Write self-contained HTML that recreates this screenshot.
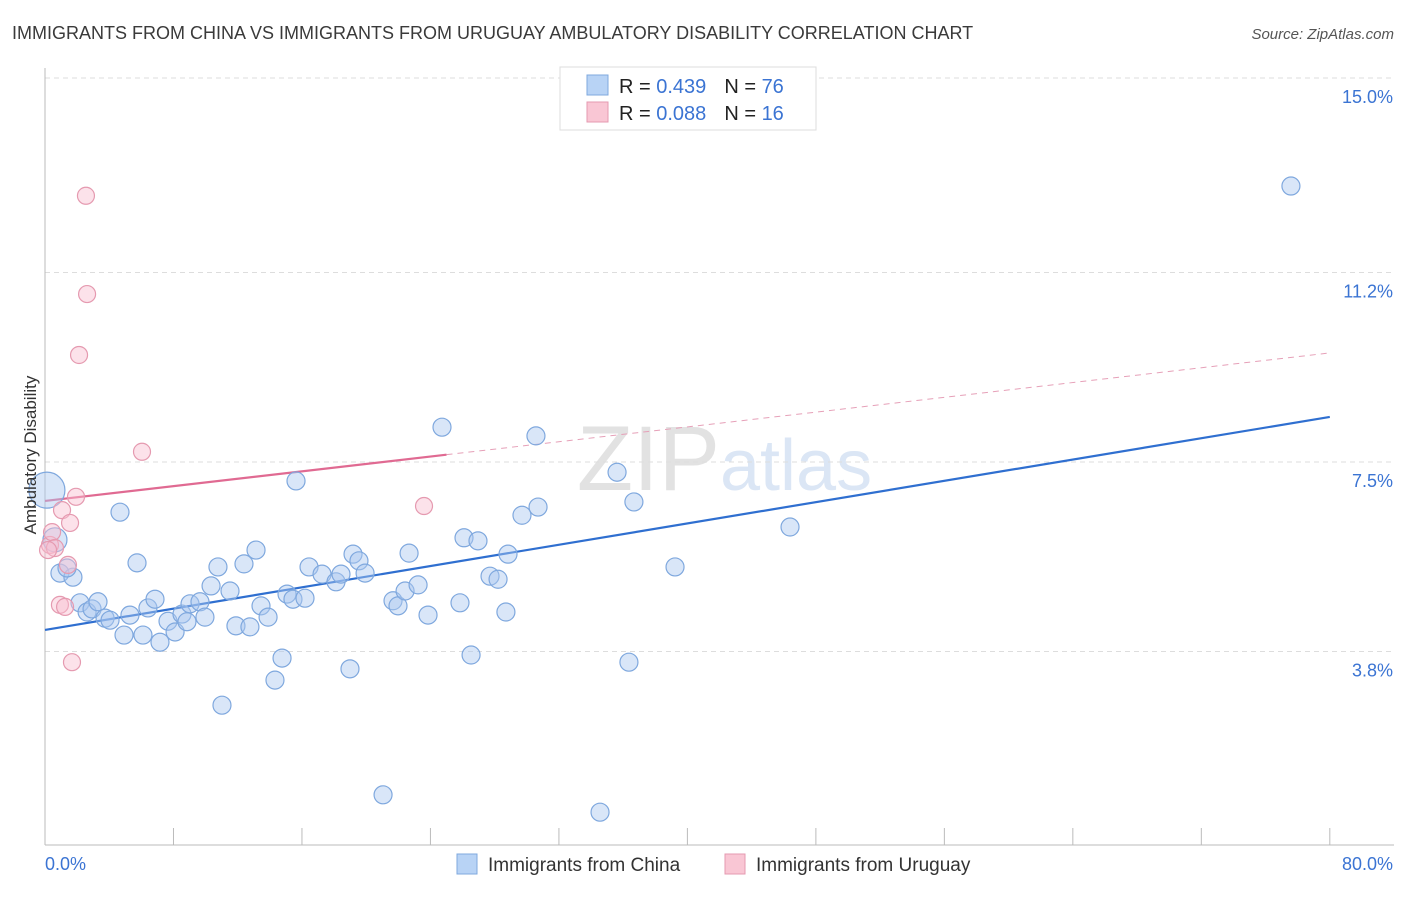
<!DOCTYPE html>
<html><head><meta charset="utf-8"><style>
body{margin:0;background:#fff;font-family:"Liberation Sans",sans-serif}
svg text{font-family:"Liberation Sans",sans-serif}
</style></head><body>
<svg id="c" width="1406" height="892" viewBox="0 0 1406 892">
<text x="12" y="39" font-size="18" fill="#3a3a3a">IMMIGRANTS FROM CHINA VS IMMIGRANTS FROM URUGUAY AMBULATORY DISABILITY CORRELATION CHART</text>
<text x="1394" y="39" font-size="15" fill="#555" font-style="italic" text-anchor="end">Source: ZipAtlas.com</text>
<text x="720" y="490" font-size="92" fill="#e2e2e2" text-anchor="end" font-family="Liberation Serif">ZIP</text>
<text x="720" y="490" font-size="72" fill="#dbe6f5">atlas</text>
<g id="grid"></g>
<g id="axes"></g>
<g id="lines"></g>
<g id="pts"></g>
<text x="36" y="455" font-size="17" fill="#333" text-anchor="middle" transform="rotate(-90 36 455)">Ambulatory Disability</text>
<g>
<rect x="560" y="67" width="256" height="63" fill="#fff" stroke="#ddd"/>
<rect x="587" y="75" width="21" height="20" fill="#b8d3f5" stroke="#7fa8de"/>
<rect x="587" y="102" width="21" height="20" fill="#f9c6d4" stroke="#e59ab0"/>
<text x="619" y="93" font-size="20" fill="#222">R = <tspan fill="#3b74d3">0.439</tspan><tspan dx="18">N = </tspan><tspan fill="#3b74d3">76</tspan></text>
<text x="619" y="120" font-size="20" fill="#222">R = <tspan fill="#3b74d3">0.088</tspan><tspan dx="18">N = </tspan><tspan fill="#3b74d3">16</tspan></text>
</g>
<g>
<rect x="457" y="854" width="20" height="20" fill="#b8d3f5" stroke="#7fa8de"/>
<text x="488" y="871" font-size="19" fill="#333">Immigrants from China</text>
<rect x="725" y="854" width="20" height="20" fill="#f9c6d4" stroke="#e59ab0"/>
<text x="756" y="871" font-size="19" fill="#333">Immigrants from Uruguay</text>
</g>
</svg>
<script>
const yTicks=[15.0,11.2,7.5,3.8];
const yTickLabels=["15.0%","11.2%","7.5%","3.8%"];
const xTickVals=[0,8,16,24,32,40,48,56,64,72,80];
const chinaX=[0.12,0.62,0.93,1.74,1.37,2.18,2.62,2.93,3.30,3.74,4.05,4.67,4.92,5.29,5.73,6.10,6.41,6.85,7.16,7.66,8.10,8.53,8.84,9.03,9.65,9.96,10.34,10.77,11.02,11.52,11.89,12.39,12.76,13.14,13.45,13.89,14.32,14.76,15.07,15.44,15.63,16.19,16.44,17.25,18.12,18.43,18.99,19.18,19.55,19.93,21.05,21.67,21.98,22.42,22.67,23.23,23.85,24.72,25.84,26.09,26.53,26.96,27.71,28.21,28.70,28.83,29.70,30.57,30.70,34.56,35.62,36.36,36.67,39.23,46.39,77.58];
const chinaY=[6.95,5.98,5.33,5.25,5.43,4.75,4.57,4.63,4.77,4.45,4.41,6.52,4.12,4.51,5.53,4.12,4.65,4.82,3.98,4.39,4.18,4.53,4.38,4.73,4.77,4.47,5.08,5.45,2.75,4.98,4.30,5.51,4.28,5.78,4.69,4.47,3.24,3.67,4.92,4.82,7.13,4.84,5.45,5.31,5.16,5.31,3.46,5.70,5.57,5.33,1.00,4.79,4.69,4.98,5.72,5.10,4.51,8.18,4.75,6.02,3.73,5.96,5.27,5.21,4.57,5.70,6.46,8.01,6.62,0.66,7.30,3.59,6.72,5.45,6.23,12.89];
const uruX=[0.31,0.44,0.62,1.06,1.43,1.56,0.93,1.25,1.68,1.93,2.12,2.55,2.62,6.04,23.60,0.19];
const uruY=[5.88,6.13,5.82,6.56,5.49,6.31,4.71,4.67,3.59,6.82,9.59,12.70,10.78,7.70,6.64,5.78];
const chinaTrend=[4.22,8.38];
const uruTrend=[6.74,9.63];
const uruSolidEnd=25;
const NS='http://www.w3.org/2000/svg';
const X=v=>45+v*16.06, Y=v=>78+(15-v)*51.2;
function mk(tag,attrs,parent){const e=document.createElementNS(NS,tag);for(const k in attrs)e.setAttribute(k,attrs[k]);document.getElementById(parent).appendChild(e);return e;}
yTicks.forEach((t,i)=>{
 const l=mk('line',{x1:45,x2:1394,y1:Y(t),y2:Y(t),stroke:'#ddd','stroke-dasharray':'5,4'},'grid');
 
 
 const tx=mk('text',{x:1393,y:Y(t)+25,'font-size':18,fill:'#3b74d3','text-anchor':'end'},'axes');
 tx.textContent=yTickLabels[i];
 
 
});
const ax=mk('line',{x1:45,x2:1394,y1:845,y2:845,stroke:'#bbb'},'axes');


const ay=mk('line',{x1:45,x2:45,y1:68,y2:845,stroke:'#bbb'},'axes');


xTickVals.forEach(t=>{
 const l=mk('line',{x1:X(t),x2:X(t),y1:828,y2:845,stroke:'#bbb'},'axes');
 
 
});
const xl0=mk('text',{x:45,y:870,'font-size':18,fill:'#3b74d3'},'axes');xl0.textContent='0.0%';


const xl1=mk('text',{x:1393,y:870,'font-size':18,fill:'#3b74d3','text-anchor':'end'},'axes');xl1.textContent='80.0%';


chinaX.forEach((x,i)=>{
 const r=i===0?18:(i===1?12:9);
 const c=mk('circle',{cx:X(x),cy:Y(chinaY[i]),r:r,fill:'rgba(170,200,240,0.45)',stroke:'#7fa8de','stroke-width':1.2},'pts');
 
 
});
uruX.forEach((x,i)=>{
 const c=mk('circle',{cx:X(x),cy:Y(uruY[i]),r:8.5,fill:'rgba(248,190,208,0.45)',stroke:'#e59ab0','stroke-width':1.2},'pts');
 
 
});
const ct=mk('line',{x1:X(0),y1:Y(chinaTrend[0]),x2:X(80),y2:Y(chinaTrend[1]),stroke:'#2f6fd0','stroke-width':2.2},'lines');


const uv=v=>uruTrend[0]+(uruTrend[1]-uruTrend[0])*v/80;
const us=mk('line',{x1:X(0),y1:Y(uv(0)),x2:X(uruSolidEnd),y2:Y(uv(uruSolidEnd)),stroke:'#e06a92','stroke-width':2.2},'lines');


const ud=mk('line',{x1:X(uruSolidEnd),y1:Y(uv(uruSolidEnd)),x2:X(80),y2:Y(uv(80)),stroke:'#e6a0b8','stroke-width':1,'stroke-dasharray':'6,5'},'lines');


</script>
</body></html>
